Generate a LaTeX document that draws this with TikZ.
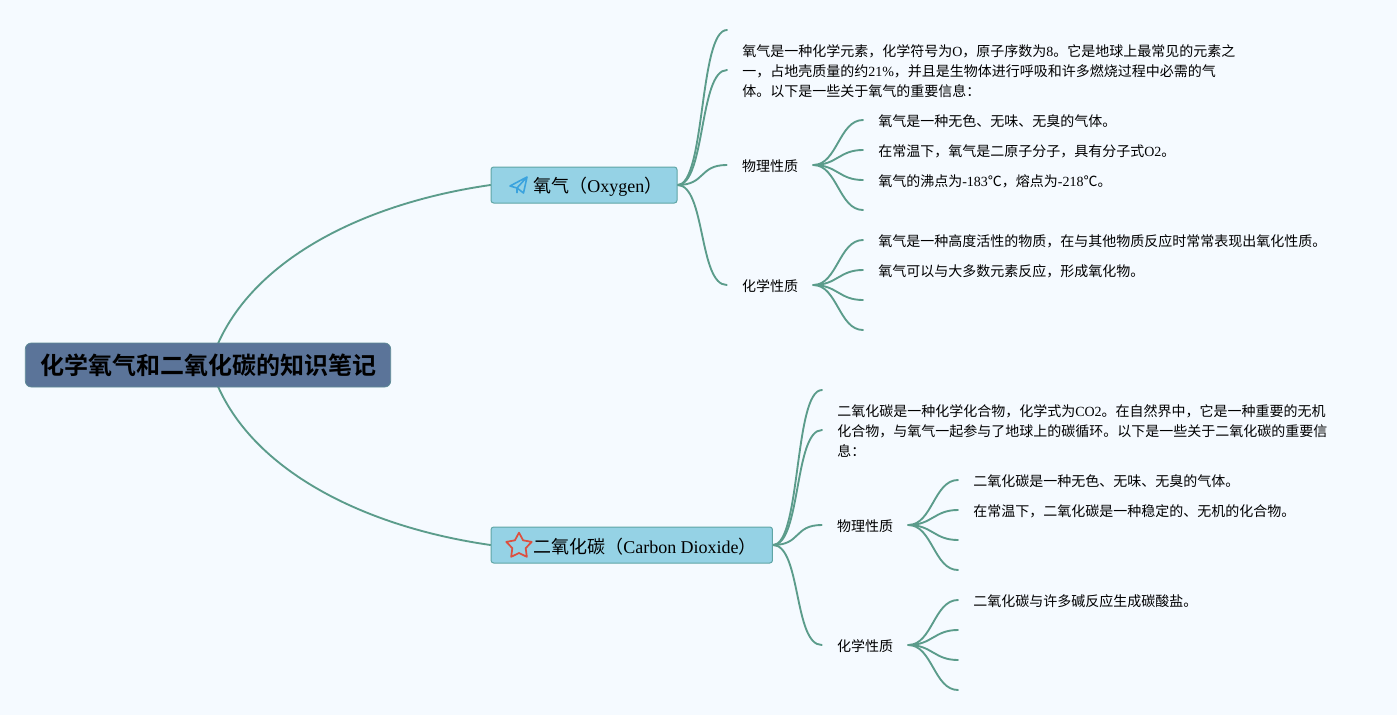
\documentclass[tikz,border=0pt]{standalone}
\usepackage{fontspec}
\setmainfont{Liberation Serif}
\newfontfamily\cjk{Noto Sans CJK SC}
\newfontfamily\cjkb{Noto Sans CJK SC Bold}
\usetikzlibrary{backgrounds,shapes.geometric,calc}
\definecolor{bgc}{HTML}{F5FAFF}
\definecolor{linec}{HTML}{5B9C8B}
\definecolor{rootc}{HTML}{5B7499}
\definecolor{rootb}{HTML}{5E8A96}
\definecolor{branchc}{HTML}{95D2E5}
\definecolor{branchb}{HTML}{5FA5A5}
\definecolor{starc}{HTML}{DC5040}
\definecolor{planec}{HTML}{3BA3DE}
\tikzset{
 px/.style={x=0.75pt,y=-0.75pt},
 link/.style={draw=linec,line width=1.4pt,line cap=round},
 rootbox/.style={draw=rootb,line width=0.6pt,fill=rootc,rounded corners=4.5pt,minimum width=274pt,minimum height=33pt,inner sep=0pt,font=\cjkb\fontsize{18}{22}\selectfont},
 branchbox/.style={draw=branchb,line width=0.75pt,fill=branchc,rounded corners=2pt,minimum height=27pt,inner sep=0pt},
 branchtext/.style={anchor=west,inner sep=0pt,font=\cjk\fontsize{13.5}{16}\selectfont},
 leaf/.style={anchor=west,inner xsep=11.25pt,inner ysep=0pt,align=left,font=\cjk\fontsize{10.5}{15}\selectfont},
 midt/.style={inner xsep=11.25pt,inner ysep=0pt,font=\cjk\fontsize{10.5}{15}\selectfont},
}
\newcommand{\lat}[1]{{\rmfamily #1}}
\begin{document}
\begin{tikzpicture}[px]
\useasboundingbox (0,0) rectangle (1397,715);
\node[rootbox] (root) at (208,365) {\hspace*{1.2pt}化学氧气和二氧化碳的知识笔记};
\node[branchbox,minimum width=139.5pt] (o2) at (584,185) {};
\node[branchbox,minimum width=211.1pt] (co2) at (631.75,545) {};
\node[branchtext] (o2t) at (533,186.5) {氧气（\lat{Oxygen}）};
\node[branchtext] (co2t) at (533,546.5) {二氧化碳（\lat{Carbon Dioxide}）};
% oxygen
\coordinate (a0) at (727,31);
\node[leaf] (a1) at (727,71) {氧气是一种化学元素，化学符号为\lat{O}，原子序数为\lat{8}。它是地球上最常见的元素之\\一，占地壳质量的约\lat{21\%}，并且是生物体进行呼吸和许多燃烧过程中必需的气\\体。以下是一些关于氧气的重要信息：};
\node[midt] (p1) at (770,166) {物理性质};
\node[midt] (c1) at (770,286) {化学性质};
\node[leaf] (p11) at (863,121) {氧气是一种无色、无味、无臭的气体。};
\node[leaf] (p12) at (863,151) {在常温下，氧气是二原子分子，具有分子式\lat{O2}。};
\node[leaf] (p13) at (863,181) {氧气的沸点为\lat{-183}℃，熔点为\lat{-218}℃。};
\coordinate (p14) at (863,211);
\node[leaf] (c11) at (863,241) {氧气是一种高度活性的物质，在与其他物质反应时常常表现出氧化性质。};
\node[leaf] (c12) at (863,271) {氧气可以与大多数元素反应，形成氧化物。};
\coordinate (c13) at (863,301);
\coordinate (c14) at (863,331);
% co2
\coordinate (b0) at (822,391);
\node[leaf] (b1) at (822,431) {二氧化碳是一种化学化合物，化学式为\lat{CO2}。在自然界中，它是一种重要的无机\\化合物，与氧气一起参与了地球上的碳循环。以下是一些关于二氧化碳的重要信\\息：};
\node[midt] (p2) at (865,526) {物理性质};
\node[midt] (c2) at (865,646) {化学性质};
\node[leaf] (p21) at (958,481) {二氧化碳是一种无色、无味、无臭的气体。};
\node[leaf] (p22) at (958,511) {在常温下，二氧化碳是一种稳定的、无机的化合物。};
\coordinate (p23) at (958,541);
\coordinate (p24) at (958,571);
\node[leaf] (c21) at (958,601) {二氧化碳与许多碱反应生成碳酸盐。};
\coordinate (c22) at (958,631);
\coordinate (c23) at (958,661);
\coordinate (c24) at (958,691);
% icons
\node[star,star points=5,star point ratio=1.9,minimum size=20pt,inner sep=0pt,draw=starc,line width=1.3pt,line join=round] (st) at (519,546) {};
\coordinate (pl) at (518,185);
\draw[draw=planec,line width=1.2pt,line join=round] ($(pl)+(-8,1)$) -- ($(pl)+(9,-8)$) -- ($(pl)+(5.5,8)$) -- ($(pl)+(-1,3)$) -- cycle ($(pl)+(-1,3)$) -- ($(pl)+(9,-8)$) ($(pl)+(-1,3)$) -- ($(pl)+(-1,8)$);
\begin{scope}[on background layer]
\fill[bgc] (0,0) rectangle (1397,715);
\draw[link] ($(root.north)+(10,1)$) .. controls (256,258) and (365,203) .. (o2.west);
\draw[link] ($(root.south)+(10,-1)$) .. controls (256,472) and (365,527) .. (co2.west);
\foreach \t in {a0,a1,p1,c1}{\draw[link] (o2.east) .. controls ($(o2.east)+(28,0)$) and ($(\t.west)+(-28,-1)$) .. ($(\t.west)+(0,-1)$);}
\foreach \s/\t in {p1/p11,p1/p12,p1/p13,p1/p14,c1/c11,c1/c12,c1/c13,c1/c14,p2/p21,p2/p22,p2/p23,p2/p24,c2/c21,c2/c22,c2/c23,c2/c24}{\draw[link] ($(\s.east)+(0,-1)$) .. controls ($(\s.east)+(24,-1)$) and ($(\t.west)+(-24,-1)$) .. ($(\t.west)+(0,-1)$);}
\foreach \t in {b0,b1,p2,c2}{\draw[link] (co2.east) .. controls ($(co2.east)+(28,0)$) and ($(\t.west)+(-28,-1)$) .. ($(\t.west)+(0,-1)$);}
\end{scope}
\end{tikzpicture}
\end{document}
